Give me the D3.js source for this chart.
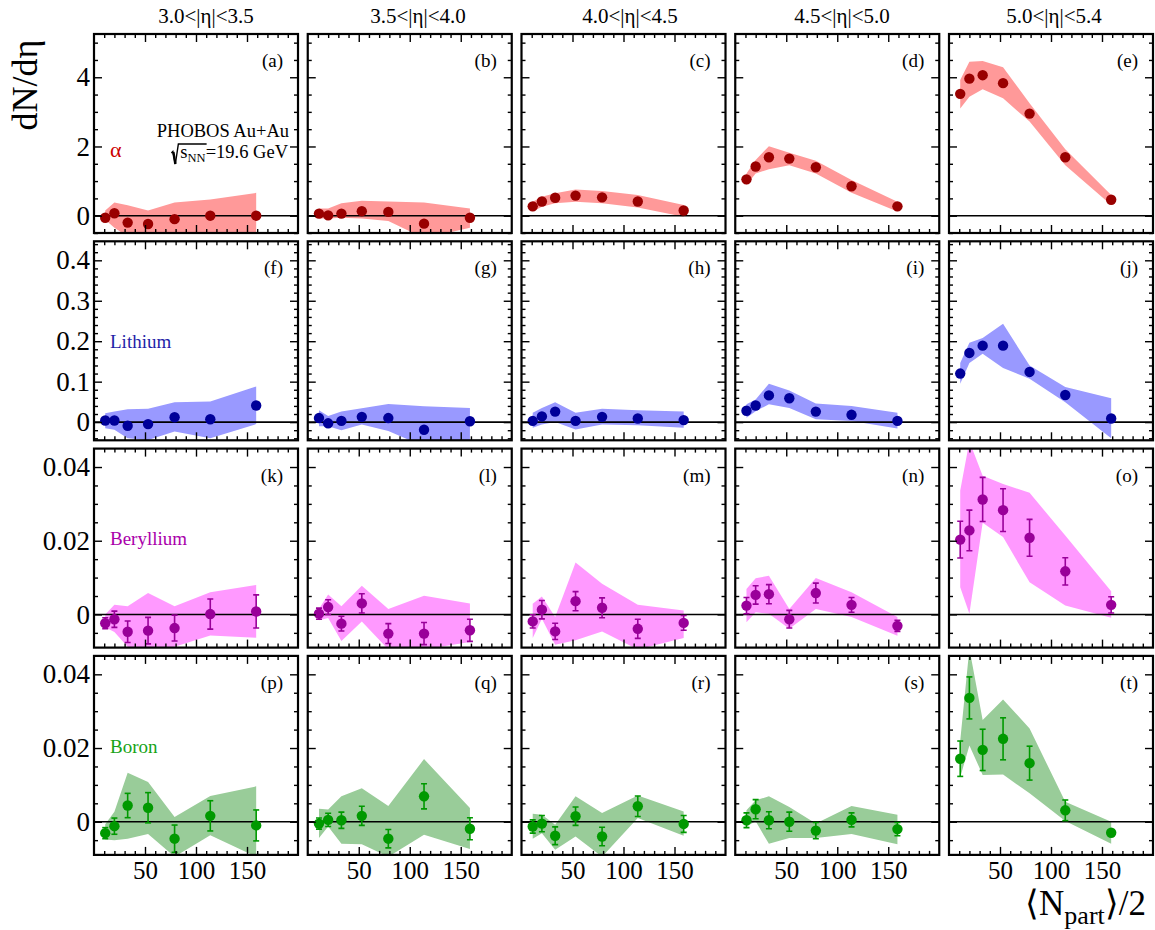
<!DOCTYPE html>
<html>
<head>
<meta charset="utf-8">
<script src="https://cdn.jsdelivr.net/npm/d3@7"></script>
<style>
  body { margin: 0; background: #fff; }
  svg text { font-family: "Liberation Serif", "Times New Roman", serif; }
</style>
</head>
<body>
<div id="chart"></div>
<script>
// centrality bins, <Npart>/2
const npartHalf = [11, 20, 33, 53, 79, 114, 159];
const etaBins = ["3.0<|η|<3.5", "3.5<|η|<4.0", "4.0<|η|<4.5", "4.5<|η|<5.0", "5.0<|η|<5.4"];
const panelTags = "abcdefghijklmnopqrst".split("");
const speciesNames = ["α", "Lithium", "Beryllium", "Boron"];

// alpha: one array per eta bin
const alphaVal = [
  [-0.06, 0.07, -0.20, -0.24, -0.10, 0.00, 0.00],
  [0.06, 0.01, 0.06, 0.13, 0.11, -0.23, -0.06],
  [0.27, 0.41, 0.52, 0.58, 0.53, 0.41, 0.15],
  [1.05, 1.42, 1.69, 1.65, 1.40, 0.85, 0.27],
  [3.52, 3.96, 4.06, 3.83, 2.95, 1.69, 0.46]
];
const alphaLow = [
  [-0.12, -0.35, -0.60, -0.60, -0.60, -0.60, -0.60],
  [-0.08, -0.08, -0.06, -0.08, -0.15, -0.65, -0.35],
  [0.12, 0.26, 0.36, 0.40, 0.36, 0.24, -0.03],
  [0.89, 1.22, 1.34, 1.46, 1.22, 0.66, 0.12],
  [3.10, 3.44, 3.65, 3.39, 2.72, 1.46, 0.31]
];
const alphaHigh = [
  [0.15, 0.38, 0.30, 0.15, 0.38, 0.47, 0.66],
  [0.21, 0.21, 0.36, 0.43, 0.41, 0.38, 0.21],
  [0.40, 0.55, 0.65, 0.76, 0.71, 0.60, 0.31],
  [1.22, 1.61, 2.01, 1.82, 1.59, 1.03, 0.40],
  [3.92, 4.45, 4.47, 4.29, 3.25, 1.92, 0.60]
];

// lithium
const lithiumVal = [
  [0.004, 0.004, -0.009, -0.005, 0.012, 0.007, 0.041],
  [0.010, -0.003, 0.003, 0.013, 0.010, -0.019, 0.002],
  [0.003, 0.014, 0.026, 0.003, 0.013, 0.009, 0.005],
  [0.028, 0.041, 0.066, 0.059, 0.026, 0.018, 0.003],
  [0.120, 0.171, 0.189, 0.189, 0.124, 0.067, 0.009]
];
const lithiumLow = [
  [-0.015, -0.019, -0.040, -0.044, -0.023, -0.040, -0.005],
  [-0.010, -0.010, -0.020, -0.006, -0.022, -0.060, -0.050],
  [-0.014, -0.006, 0.000, -0.018, -0.006, -0.008, -0.014],
  [0.011, 0.027, 0.044, 0.035, 0.007, 0.003, -0.016],
  [0.095, 0.146, 0.169, 0.134, 0.107, 0.049, -0.040]
];
const lithiumHigh = [
  [0.022, 0.026, 0.032, 0.033, 0.049, 0.051, 0.088],
  [0.029, 0.015, 0.026, 0.034, 0.045, 0.039, 0.035],
  [0.023, 0.035, 0.049, 0.023, 0.033, 0.029, 0.026],
  [0.044, 0.056, 0.095, 0.078, 0.046, 0.040, 0.023],
  [0.146, 0.196, 0.208, 0.243, 0.140, 0.087, 0.059]
];

// beryllium
const berylliumVal = [
  [-0.0024, -0.0013, -0.0047, -0.0044, -0.0037, 0.0001, 0.0008],
  [0.0002, 0.0020, -0.0025, 0.0030, -0.0052, -0.0052, -0.0043],
  [-0.0019, 0.0013, -0.0046, 0.0036, 0.0018, -0.0039, -0.0023],
  [0.0024, 0.0053, 0.0055, -0.0013, 0.0058, 0.0026, -0.0031],
  [0.0203, 0.0228, 0.0312, 0.0283, 0.0208, 0.0117, 0.0026]
];
const berylliumErr = [
  [0.0015, 0.0022, 0.0029, 0.0036, 0.0035, 0.0041, 0.0045],
  [0.0015, 0.0020, 0.0020, 0.0026, 0.0027, 0.0030, 0.0030],
  [0.0018, 0.0025, 0.0022, 0.0026, 0.0027, 0.0026, 0.0020],
  [0.0022, 0.0025, 0.0026, 0.0024, 0.0027, 0.0020, 0.0015],
  [0.0050, 0.0055, 0.0060, 0.0058, 0.0050, 0.0037, 0.0022]
];
const berylliumLow = [
  [-0.0035, -0.0048, -0.0088, -0.0100, -0.0088, -0.0057, -0.0063],
  [-0.0016, -0.0010, -0.0072, -0.0019, -0.0095, -0.0095, -0.0075],
  [-0.0064, -0.0012, -0.0082, -0.0070, -0.0046, -0.0095, -0.0064],
  [-0.0021, 0.0006, 0.0002, -0.0039, 0.0015, -0.0007, -0.0058],
  [0.0074, 0.0002, 0.0249, 0.0210, 0.0087, 0.0024, -0.0009]
];
const berylliumHigh = [
  [0.0000, 0.0026, 0.0022, 0.0058, 0.0022, 0.0060, 0.0080],
  [0.0015, 0.0054, 0.0022, 0.0078, 0.0015, 0.0051, 0.0030],
  [0.0029, 0.0049, -0.0007, 0.0141, 0.0083, 0.0026, 0.0011],
  [0.0069, 0.0098, 0.0105, 0.0015, 0.0099, 0.0060, -0.0007],
  [0.0336, 0.0470, 0.0376, 0.0354, 0.0330, 0.0214, 0.0063]
];

// boron
const boronVal = [
  [-0.0031, -0.0012, 0.0044, 0.0038, -0.0046, 0.0016, -0.0010],
  [-0.0005, 0.0005, 0.0004, 0.0016, -0.0046, 0.0069, -0.0019],
  [-0.0013, -0.0005, -0.0038, 0.0015, -0.0040, 0.0042, -0.0006],
  [0.0004, 0.0034, 0.0004, 0.0000, -0.0024, 0.0005, -0.0020],
  [0.0171, 0.0336, 0.0195, 0.0225, 0.0159, 0.0031, -0.0030]
];
const boronErr = [
  [0.0015, 0.0022, 0.0033, 0.0041, 0.0037, 0.0041, 0.0042],
  [0.0015, 0.0018, 0.0022, 0.0026, 0.0025, 0.0034, 0.0030],
  [0.0018, 0.0022, 0.0024, 0.0025, 0.0025, 0.0028, 0.0023],
  [0.0020, 0.0026, 0.0023, 0.0026, 0.0022, 0.0019, 0.0018],
  [0.0048, 0.0057, 0.0056, 0.0057, 0.0046, 0.0028, 0.0005]
];
const boronLow = [
  [-0.0048, -0.0050, -0.0046, -0.0033, -0.0095, -0.0037, -0.0095],
  [-0.0044, -0.0013, -0.0060, -0.0061, -0.0095, -0.0035, -0.0074],
  [-0.0046, -0.0031, -0.0076, -0.0040, -0.0095, 0.0010, -0.0038],
  [-0.0013, 0.0001, -0.0060, -0.0044, -0.0044, -0.0033, -0.0061],
  [0.0121, 0.0207, 0.0127, 0.0128, 0.0077, 0.0002, -0.0060]
];
const boronHigh = [
  [-0.0007, 0.0027, 0.0133, 0.0108, 0.0013, 0.0070, 0.0096],
  [0.0035, 0.0033, 0.0069, 0.0091, 0.0043, 0.0170, 0.0037],
  [0.0022, 0.0019, -0.0008, 0.0069, 0.0024, 0.0071, 0.0028],
  [0.0031, 0.0058, 0.0069, 0.0040, -0.0005, 0.0043, 0.0019],
  [0.0220, 0.0470, 0.0276, 0.0332, 0.0253, 0.0054, 0.0000]
];

// tick labels
const xTicks = [50, 100, 150];
const yTicksAlpha = [0, 2, 4];
const yTicksLithium = [0, 0.1, 0.2, 0.3, 0.4];
const yTicksHeavy = [0, 0.02, 0.04];

const rows = [
  { name: speciesNames[0], val: alphaVal, lo: alphaLow, hi: alphaHigh, err: null,
    domain: [-0.5, 5.25], ticks: yTicksAlpha, minor: d3.range(-0.5, 5.25, 0.5),
    mark: "#990000", band: "#ff9999", text: "#cc0000", labelDy: 123, labelSize: 22 },
  { name: speciesNames[1], val: lithiumVal, lo: lithiumLow, hi: lithiumHigh, err: null,
    domain: [-0.045, 0.447], ticks: yTicksLithium, minor: d3.range(-0.04, 0.447, 0.02),
    mark: "#000099", band: "#9999ff", text: "#1f1fa8", labelDy: 107, labelSize: 19 },
  { name: speciesNames[2], val: berylliumVal, lo: berylliumLow, hi: berylliumHigh, err: berylliumErr,
    domain: [-0.009, 0.045], ticks: yTicksHeavy, minor: d3.range(-0.005, 0.045, 0.005),
    mark: "#990099", band: "#ff99ff", text: "#aa00aa", labelDy: 96, labelSize: 19 },
  { name: speciesNames[3], val: boronVal, lo: boronLow, hi: boronHigh, err: boronErr,
    domain: [-0.009, 0.045], ticks: yTicksHeavy, minor: d3.range(-0.005, 0.045, 0.005),
    mark: "#009900", band: "#99cc99", text: "#16a316", labelDy: 97, labelSize: 19 }
];

const W = 1155, H = 930;
const panelW = 204, panelH = 199;
const colStep = 213.75, rowStep = 207.3;
const left0 = 94, top0 = 34;

const svg = d3.select("#chart").append("svg")
    .attr("width", W)
    .attr("height", H);

const minorX = d3.range(10, 200, 10).filter(v => v % 50 !== 0);
const fmtY = d => d === 0 ? "0" : d3.format("~g")(d);

function styleAxis(sel, size) {
  sel.select(".domain").remove();
  sel.selectAll("line").attr("stroke", "#000").attr("stroke-width", 1.4);
  sel.attr("font-family", "'Liberation Serif', 'Times New Roman', serif")
     .attr("font-size", size);
  sel.selectAll("text").attr("fill", "#000");
}

function drawPanel(r, c) {
  const row = rows[r];
  const x0 = left0 + c * colStep, y0 = top0 + r * rowStep;
  const x = d3.scaleLinear().domain([0, 200]).range([x0, x0 + panelW]);
  const y = d3.scaleLinear().domain(row.domain).range([y0 + panelH, y0]);

  const clipId = "clip" + r + "_" + c;
  svg.append("clipPath").attr("id", clipId)
    .append("rect").attr("x", x0).attr("y", y0).attr("width", panelW).attr("height", panelH);

  const g = svg.append("g");
  const inner = g.append("g").attr("clip-path", `url(#${clipId})`);

  const pts = npartHalf.map((n, i) => ({
    n: n, v: row.val[c][i], lo: row.lo[c][i], hi: row.hi[c][i],
    e: row.err ? row.err[c][i] : 0
  }));

  // systematic band
  inner.append("path")
    .datum(pts)
    .attr("d", d3.area().x(d => x(d.n)).y0(d => y(d.lo)).y1(d => y(d.hi)))
    .attr("fill", row.band);

  // zero line
  inner.append("line")
    .attr("x1", x0).attr("x2", x0 + panelW)
    .attr("y1", y(0)).attr("y2", y(0))
    .attr("stroke", "#000").attr("stroke-width", 1.6);

  // statistical errors
  if (row.err) {
    const eb = inner.append("g").attr("stroke", row.mark).attr("stroke-width", 1.6);
    pts.forEach(d => {
      if (d.e <= 0.0008) return;
      const cx = x(d.n);
      eb.append("line").attr("x1", cx).attr("x2", cx).attr("y1", y(d.v - d.e)).attr("y2", y(d.v + d.e));
      eb.append("line").attr("x1", cx - 3).attr("x2", cx + 3).attr("y1", y(d.v - d.e)).attr("y2", y(d.v - d.e));
      eb.append("line").attr("x1", cx - 3).attr("x2", cx + 3).attr("y1", y(d.v + d.e)).attr("y2", y(d.v + d.e));
    });
  }

  inner.selectAll("circle")
    .data(pts)
    .join("circle")
    .attr("cx", d => x(d.n))
    .attr("cy", d => y(d.v))
    .attr("r", 5.2)
    .attr("fill", row.mark);

  const minorY = row.minor.filter(v => !row.ticks.some(t => Math.abs(t - v) < 1e-9));

  // ticks on all four sides, pointing inward
  g.append("g").attr("transform", `translate(0,${y0 + panelH})`)
    .call(d3.axisBottom(x).tickValues(xTicks).tickSize(-8).tickPadding(6)
      .tickFormat(r === 3 ? d3.format("d") : ""))
    .call(s => styleAxis(s, 25));
  g.append("g").attr("transform", `translate(0,${y0 + panelH})`)
    .call(d3.axisBottom(x).tickValues(minorX).tickSize(-4).tickFormat(""))
    .call(s => styleAxis(s, 10));
  g.append("g").attr("transform", `translate(0,${y0})`)
    .call(d3.axisTop(x).tickValues(xTicks).tickSize(-8).tickFormat(""))
    .call(s => styleAxis(s, 10));
  g.append("g").attr("transform", `translate(0,${y0})`)
    .call(d3.axisTop(x).tickValues(minorX).tickSize(-4).tickFormat(""))
    .call(s => styleAxis(s, 10));
  g.append("g").attr("transform", `translate(${x0},0)`)
    .call(d3.axisLeft(y).tickValues(row.ticks).tickSize(-8).tickPadding(4)
      .tickFormat(c === 0 ? fmtY : ""))
    .call(s => styleAxis(s, 27));
  g.append("g").attr("transform", `translate(${x0},0)`)
    .call(d3.axisLeft(y).tickValues(minorY).tickSize(-4).tickFormat(""))
    .call(s => styleAxis(s, 10));
  g.append("g").attr("transform", `translate(${x0 + panelW},0)`)
    .call(d3.axisRight(y).tickValues(row.ticks).tickSize(-8).tickFormat(""))
    .call(s => styleAxis(s, 10));
  g.append("g").attr("transform", `translate(${x0 + panelW},0)`)
    .call(d3.axisRight(y).tickValues(minorY).tickSize(-4).tickFormat(""))
    .call(s => styleAxis(s, 10));

  // frame
  g.append("rect")
    .attr("x", x0).attr("y", y0).attr("width", panelW).attr("height", panelH)
    .attr("fill", "none").attr("stroke", "#000").attr("stroke-width", 2.2);

  // panel tag
  g.append("text")
    .attr("x", x0 + panelW - 15).attr("y", y0 + 33)
    .attr("text-anchor", "end")
    .style("font-size", "19px")
    .text("(" + panelTags[r * 5 + c] + ")");

  // species name in first column
  if (c === 0) {
    g.append("text")
      .attr("x", x0 + 16).attr("y", y0 + row.labelDy)
      .attr("fill", row.text)
      .style("font-size", row.labelSize + "px")
      .text(row.name);
  }
}

for (let r = 0; r < rows.length; r++) {
  for (let c = 0; c < etaBins.length; c++) drawPanel(r, c);
}

// eta bin headers
svg.selectAll("text.eta")
  .data(etaBins)
  .join("text")
  .attr("class", "eta")
  .attr("x", (d, i) => 206 + i * 212)
  .attr("y", 23)
  .attr("text-anchor", "middle")
  .style("font-size", "21px")
  .text(d => d);

// y title
svg.append("text")
  .attr("transform", "translate(37,85) rotate(-90)")
  .attr("text-anchor", "middle")
  .style("font-size", "36px")
  .text("dN/dη");

// x title
const xt = svg.append("text")
  .attr("x", 1146).attr("y", 915)
  .attr("text-anchor", "end")
  .style("font-size", "35px");
xt.append("tspan").text("⟨N");
xt.append("tspan").attr("dy", 9).style("font-size", "26px").text("part");
xt.append("tspan").attr("dy", -9).text("⟩/2");

// experiment label in panel (a)
const base2 = 158;
svg.append("text")
  .attr("x", 289).attr("y", 137)
  .attr("text-anchor", "end")
  .style("font-size", "18.5px")
  .text("PHOBOS Au+Au");
const en = svg.append("text")
  .attr("x", 288).attr("y", base2)
  .attr("text-anchor", "end")
  .style("font-size", "18.5px");
en.append("tspan").text("s");
en.append("tspan").attr("dy", 4).style("font-size", "12.5px").text("NN");
en.append("tspan").attr("dy", -4).text("=19.6 GeV");
const enLen = en.node().getComputedTextLength();
const sx = 288 - enLen;
const sNNw = en.node().getSubStringLength(0, 3);
svg.append("path")
  .attr("d", `M${sx - 9},${base2 - 5} L${sx - 7.5},${base2 - 6.5} L${sx - 5},${base2 + 6} L${sx - 2},${base2 - 14} L${sx + sNNw + 1},${base2 - 14}`)
  .attr("fill", "none").attr("stroke", "#000").attr("stroke-width", 1.4);
svg.append("line")
  .attr("x1", sx - 7).attr("y1", base2 - 6).attr("x2", sx - 5).attr("y2", base2 + 6)
  .attr("stroke", "#000").attr("stroke-width", 2.4);
</script>
</body>
</html>
